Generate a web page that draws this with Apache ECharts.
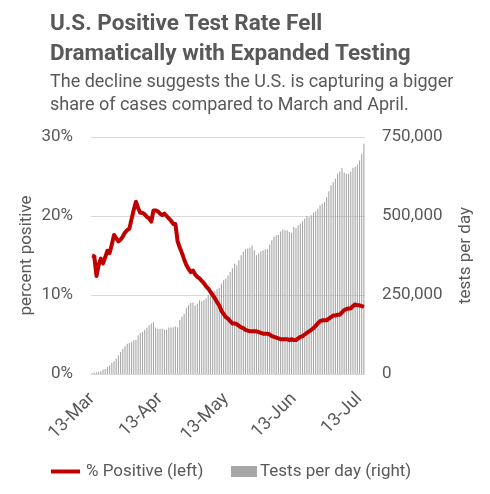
<!DOCTYPE html>
<html lang="en">
<head>
    <meta charset="UTF-8">
    <title>U.S. Positive Test Rate</title>
    <script src="https://cdn.jsdelivr.net/npm/echarts@6/dist/echarts.min.js"></script>
    <style>
        html, body { margin: 0; padding: 0; background: #fff; }
    </style>
</head>
<body>
<div id="main" style="width: 490px;height:494px;"></div>
<script>
    // days, 13-Mar .. 15-Jul
    var days = [
        '13-Mar','14-Mar','15-Mar','16-Mar','17-Mar','18-Mar','19-Mar','20-Mar','21-Mar','22-Mar',
        '23-Mar','24-Mar','25-Mar','26-Mar','27-Mar','28-Mar','29-Mar','30-Mar','31-Mar',
        '1-Apr','2-Apr','3-Apr','4-Apr','5-Apr','6-Apr','7-Apr','8-Apr','9-Apr','10-Apr',
        '11-Apr','12-Apr','13-Apr','14-Apr','15-Apr','16-Apr','17-Apr','18-Apr','19-Apr','20-Apr',
        '21-Apr','22-Apr','23-Apr','24-Apr','25-Apr','26-Apr','27-Apr','28-Apr','29-Apr','30-Apr',
        '1-May','2-May','3-May','4-May','5-May','6-May','7-May','8-May','9-May','10-May',
        '11-May','12-May','13-May','14-May','15-May','16-May','17-May','18-May','19-May','20-May',
        '21-May','22-May','23-May','24-May','25-May','26-May','27-May','28-May','29-May','30-May','31-May',
        '1-Jun','2-Jun','3-Jun','4-Jun','5-Jun','6-Jun','7-Jun','8-Jun','9-Jun','10-Jun',
        '11-Jun','12-Jun','13-Jun','14-Jun','15-Jun','16-Jun','17-Jun','18-Jun','19-Jun','20-Jun',
        '21-Jun','22-Jun','23-Jun','24-Jun','25-Jun','26-Jun','27-Jun','28-Jun','29-Jun','30-Jun',
        '1-Jul','2-Jul','3-Jul','4-Jul','5-Jul','6-Jul','7-Jul','8-Jul','9-Jul','10-Jul',
        '11-Jul','12-Jul','13-Jul','14-Jul','15-Jul'
    ];

    // % positive (left axis)
    var positiveRate = [
        15.0,14.9,12.4,13.8,14.6,14.0,14.8,15.6,15.3,16.4,
        17.6,17.2,16.8,17.0,17.4,17.9,18.2,18.4,19.6,20.8,
        21.8,21.0,20.4,20.4,20.2,19.9,19.7,19.3,20.7,20.7,
        20.6,20.3,20.1,20.3,20.0,19.7,19.4,19.0,19.0,16.8,
        16.0,15.3,14.5,13.8,13.3,12.9,13.1,12.6,12.3,12.1,
        11.8,11.5,11.1,10.8,10.4,10.0,9.6,9.1,8.7,8.0,
        7.6,7.2,7.0,6.7,6.4,6.4,6.3,6.1,5.9,5.8,
        5.6,5.5,5.4,5.4,5.4,5.4,5.3,5.2,5.1,5.1,
        5.1,5.0,4.8,4.7,4.6,4.5,4.4,4.4,4.4,4.4,
        4.3,4.4,4.3,4.3,4.5,4.7,4.8,5.0,5.2,5.4,
        5.6,5.8,6.1,6.4,6.7,6.8,6.8,6.8,7.0,7.2,
        7.4,7.4,7.5,7.5,7.8,8.1,8.2,8.3,8.3,8.6,
        8.8,8.7,8.7,8.6,8.5
    ];

    // tests per day (right axis)
    var testsPerDay = [
        2000,5000,5000,6000,9000,14000,16000,22000,27000,35000,
        40000,48000,59000,70000,80000,88000,96000,98000,101000,107000,
        108000,122000,130000,133000,140000,147000,154000,160000,164000,147000,
        143000,143000,143000,140000,140000,147000,147000,148000,150000,148000,
        171000,181000,190000,208000,218000,
        225000,226000,217000,222000,233000,230000,233000,240000,250000,254000,
        259000,262000,268000,272000,286000,297000,302000,312000,323000,335000,
        349000,344000,360000,376000,388000,395000,397000,400000,407000,392000,
        376000,381000,388000,392000,395000,395000,410000,423000,
        434000,439000,440000,451000,457000,455000,455000,449000,447000,465000,
        462000,470000,476000,483000,492000,500000,496000,502000,511000,515000,
        523000,534000,539000,544000,560000,578000,597000,607000,618000,634000,
        641000,652000,637000,634000,634000,641000,653000,655000,663000,676000,
        697000,729000
    ];

    var leftTicks = [0, 10, 20, 30];
    var rightTicks = [0, 250000, 500000, 750000];

    var txt = '#595959';
    var font = 'Roboto';

    function isThirteenth(index, value) {
        return value.indexOf('13-') === 0;
    }

    var myChart = echarts.init(document.getElementById('main'));
    var option = {
        animation: false,
        textStyle: { fontFamily: font },
        title: [
            {
                text: 'U.S. Positive Test Rate Fell\nDramatically with Expanded Testing',
                left: 50,
                top: 9,
                padding: 0,
                textStyle: { fontFamily: font, fontSize: 22.5, fontWeight: 'bold', color: txt, lineHeight: 30 }
            },
            {
                text: 'The decline suggests the U.S. is capturing a bigger\nshare of cases compared to March and April.',
                left: 50,
                top: 71,
                padding: 0,
                textStyle: { fontFamily: font, fontSize: 18, fontWeight: 'normal', color: txt, lineHeight: 23 }
            }
        ],
        legend: [
            {
                data: [{ name: '% Positive (left)', icon: 'rect' }],
                left: 51,
                top: 463,
                padding: 0,
                itemWidth: 29,
                itemHeight: 4,
                textStyle: { fontFamily: font, fontSize: 17, color: txt, padding: [0, 0, 0, 1] }
            },
            {
                data: [{ name: 'Tests per day (right)', icon: 'rect' }],
                left: 231,
                top: 463,
                padding: 0,
                itemWidth: 26,
                itemHeight: 11,
                textStyle: { fontFamily: font, fontSize: 17, color: txt, padding: [0, 0, 0, -2] }
            }
        ],
        grid: { left: 91, right: 125, top: 137, bottom: 120 },
        xAxis: {
            type: 'category',
            data: days,
            boundaryGap: true,
            axisLine: { lineStyle: { color: '#d9d9d9' } },
            axisTick: { alignWithLabel: true, interval: isThirteenth, length: 6, lineStyle: { color: '#d9d9d9' } },
            axisLabel: { interval: isThirteenth, rotate: 45, margin: 22, fontSize: 18, color: txt, fontFamily: font }
        },
        yAxis: [
            {
                type: 'value',
                min: leftTicks[0],
                max: leftTicks[leftTicks.length - 1],
                interval: 10,
                name: 'percent positive',
                nameLocation: 'middle',
                nameGap: 56,
                nameMoveOverlap: false,
                nameTextStyle: { fontSize: 17, color: txt, fontFamily: font },
                axisLine: { show: false },
                axisTick: { show: false },
                axisLabel: { formatter: '{value}%', fontSize: 17, color: txt, margin: 18, fontFamily: font },
                splitLine: { lineStyle: { color: '#d9d9d9' } }
            },
            {
                type: 'value',
                min: rightTicks[0],
                max: rightTicks[rightTicks.length - 1],
                interval: 250000,
                name: 'tests per day',
                nameLocation: 'middle',
                nameGap: 92,
                nameMoveOverlap: false,
                nameTextStyle: { fontSize: 17, color: txt, fontFamily: font },
                axisLine: { show: false },
                axisTick: { show: false },
                axisLabel: {
                    fontSize: 17, color: txt, margin: 17, fontFamily: font,
                    formatter: function (v) { return v.toLocaleString('en-US'); }
                },
                splitLine: { show: false }
            }
        ],
        series: [
            {
                name: 'Tests per day (right)',
                type: 'bar',
                yAxisIndex: 1,
                barWidth: '50%',
                itemStyle: { color: '#a6a6a6' },
                data: testsPerDay
            },
            {
                name: '% Positive (left)',
                type: 'line',
                yAxisIndex: 0,
                symbol: 'none',
                color: '#c00000',
                lineStyle: { width: 4, color: '#c00000', join: 'round' },
                data: positiveRate,
                z: 5
            }
        ]
    };
    myChart.setOption(option);
</script>
</body>
</html>
